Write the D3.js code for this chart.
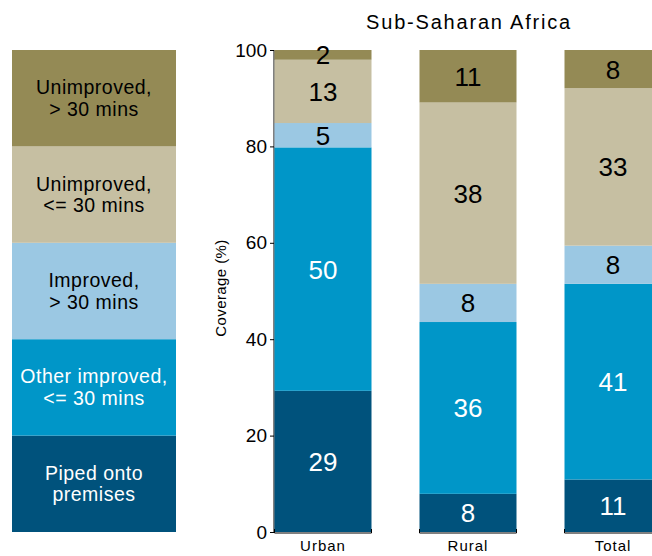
<!DOCTYPE html>
<html>
<head>
<meta charset="utf-8">
<script src="https://cdn.jsdelivr.net/npm/d3@7"></script>
<style>
  body { margin: 0; background: #fff; }
  svg { display: block; font-family: "Liberation Sans", Arial, sans-serif; }
</style>
</head>
<body>
<div id="chart"></div>
<script>
// Data
const areas = ['Urban', 'Rural', 'Total'];
const categories = ['piped', 'other', 'improved30', 'unimp', 'unimp30'];
const legendLabels = [
    ['Piped onto', 'premises'],
    ['Other improved,', '<= 30 mins'],
    ['Improved,', '> 30 mins'],
    ['Unimproved,', '<= 30 mins'],
    ['Unimproved,', '> 30 mins']
];
const piped = [29, 8, 11];
const otherImproved = [50, 36, 41];
const improved30 = [5, 8, 8];
const unimproved = [13, 38, 33];
const unimproved30 = [2, 11, 8];
const yTicks = [0, 20, 40, 60, 80, 100];

const colors = ['#00527c', '#0096c8', '#9bc8e3', '#c6bfa2', '#948a55'];
const textColors = ['#fff', '#fff', '#000', '#000', '#000'];

const W = 652, H = 556;
const svg = d3.select('#chart').append('svg').attr('width', W).attr('height', H);

const rows = areas.map((a, i) => ({
    area: a,
    piped: piped[i], other: otherImproved[i], improved30: improved30[i],
    unimp: unimproved[i], unimp30: unimproved30[i]
}));

// Stack, each bar normalised to 100%
const series = d3.stack().keys(categories).offset(d3.stackOffsetExpand)(rows);

const y = d3.scaleLinear().domain([0, 100]).range([532, 50]);
const x = d3.scalePoint().domain(areas).range([323, 613]);
const barW = 97;

// Legend block on the left
const legendY = d3.scaleBand().domain(d3.range(5).reverse()).range([50, 532]).paddingInner(0);
const leg = svg.append('g');
leg.selectAll('rect').data(d3.range(5)).enter().append('rect')
    .attr('x', 12).attr('width', 164)
    .attr('y', i => legendY(i)).attr('height', legendY.bandwidth())
    .attr('fill', i => colors[i]);
leg.selectAll('text').data(d3.range(5)).enter().append('text')
    .attr('x', 94)
    .attr('y', i => legendY(i) + legendY.bandwidth() / 2 - 4)
    .attr('text-anchor', 'middle')
    .attr('fill', i => textColors[i])
    .style('font-size', '19.5px')
    .style('letter-spacing', '0.5px')
    .each(function(i) {
        const t = d3.select(this);
        legendLabels[i].forEach((line, k) => {
            t.append('tspan').attr('x', 94).attr('dy', k === 0 ? 0 : 21.5).text(line);
        });
    });

// Y axis
const axis = svg.append('g').attr('transform', 'translate(274,0)')
    .call(d3.axisLeft(y).tickValues(yTicks).tickSize(4).tickPadding(3));
axis.select('.domain').attr('d', `M0,${y(0)}V${y(100)}`).attr('stroke', '#000');
axis.selectAll('.tick line').attr('stroke', '#000');
axis.selectAll('.tick text').style('font-size', '19px').attr('fill', '#000').attr('font-family', null);

svg.append('text')
    .attr('transform', 'translate(226,288) rotate(-90)')
    .attr('text-anchor', 'middle')
    .style('font-size', '15px')
    .style('letter-spacing', '0.4px')
    .text('Coverage (%)');

// Bars
const bars = svg.append('g');
series.forEach((s, si) => {
    const g = bars.append('g');
    g.selectAll('rect').data(s).enter().append('rect')
        .attr('x', d => x(d.data.area) - barW / 2)
        .attr('width', barW)
        .attr('y', d => y(d[1] * 100))
        .attr('height', d => y(d[0] * 100) - y(d[1] * 100))
        .attr('fill', colors[si]);
    g.selectAll('text').data(s).enter().append('text')
        .attr('x', d => x(d.data.area))
        .attr('y', d => (y(d[0] * 100) + y(d[1] * 100)) / 2 + 9.5)
        .attr('text-anchor', 'middle')
        .attr('fill', textColors[si])
        .style('font-size', '26px')
        .text(d => d.data[s.key]);
});

// Baselines under each bar with end ticks and labels
const base = svg.append('g');
areas.forEach(a => {
    const cx = x(a);
    base.append('path')
        .attr('d', `M${cx - barW / 2},${y(0) - 3}V${y(0) + 1}H${cx + barW / 2}V${y(0) - 3}`)
        .attr('fill', 'none').attr('stroke', '#000').attr('stroke-width', 1);
    base.append('text')
        .attr('x', cx).attr('y', 551)
        .attr('text-anchor', 'middle')
        .style('font-size', '15px')
        .style('letter-spacing', '1px')
        .text(a);
});

// Title
svg.append('text')
    .attr('x', 469).attr('y', 29)
    .attr('text-anchor', 'middle')
    .style('font-size', '20px')
    .style('letter-spacing', '1.8px')
    .text('Sub-Saharan Africa');
</script>
</body>
</html>
